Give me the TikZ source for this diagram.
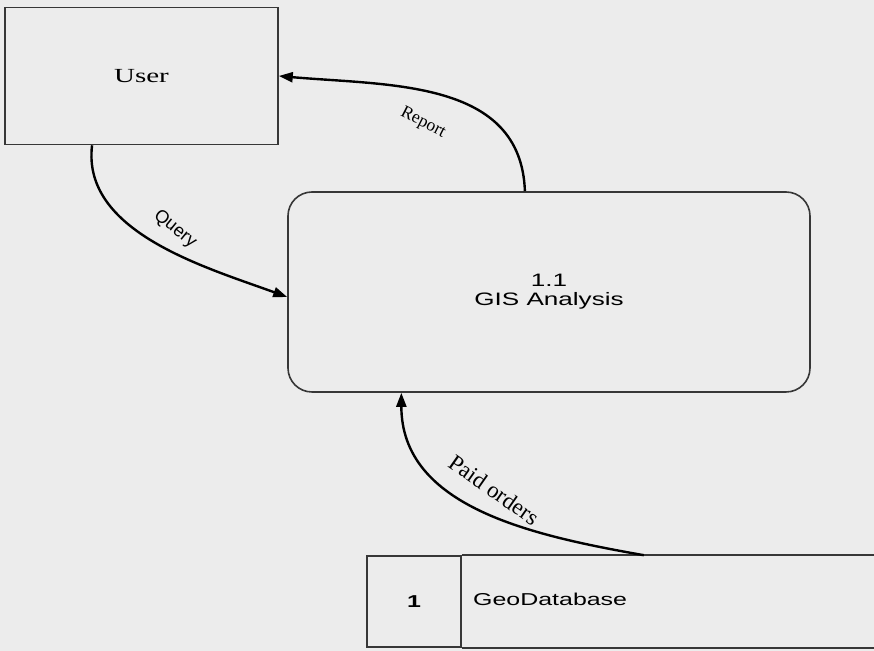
\documentclass[tikz,border=0pt]{standalone}
\usepackage{fontspec}
\setmainfont{Liberation Serif}
\setsansfont{Liberation Sans}
\usetikzlibrary{arrows.meta,calc,positioning}

\definecolor{paper}{RGB}{236,236,236}
\definecolor{edge}{RGB}{55,55,55}
\newcommand{\hstretch}[1]{\scalebox{1.45}[1]{#1}}

\tikzset{
  entity/.style={draw=edge, line width=0.8pt, minimum width=136.5pt, minimum height=68.5pt,
    inner sep=0pt, font=\rmfamily\fontsize{10}{11}\selectfont},
  process/.style={draw=edge, line width=0.8pt, rounded corners=12pt, minimum width=261pt,
    minimum height=100pt, align=center, font=\sffamily\fontsize{9}{9.5}\selectfont},
  storeid/.style={draw=edge, line width=0.8pt, minimum width=47pt, minimum height=45.5pt,
    inner sep=0pt, font=\sffamily\bfseries\fontsize{8.6}{10}\selectfont},
  flow/.style={line width=1.2pt, -{Triangle[length=7pt,width=5pt]}},
  flowlabel/.style={inner sep=1pt}
}

\begin{document}
\begin{tikzpicture}[x=0.5pt, y=0.5pt]
\fill[paper] (0,0) rectangle (874,-651);
\useasboundingbox (0,0) rectangle (874,-651);

\node[entity] (user) at (141.5,-76) {\hstretch{User}};
\node[process] (proc) at (549,-292) {\raisebox{-2pt}{\hstretch{1.1}}\\\raisebox{-2pt}{\hstretch{GIS Analysis}}};

\node[storeid] (sid) at (414,-601.5) {\raisebox{-1pt}{\hstretch{1}}};
\node[anchor=west, inner sep=0pt, font=\sffamily\fontsize{8.6}{10}\selectfont] (sname)
  at ($(sid.east)+(11,2)$) {\hstretch{GeoDatabase}};
\draw[draw=edge, line width=0.8pt] (sid.north east) -- ++(413,0)
  (sid.south east) -- ++(413,0);

\coordinate (repstart) at ($(proc.north west)!0.454!(proc.north east)$);
\coordinate (qrystart) at ($(user.south west)!0.32!(user.south east)$);
\coordinate (qryend) at ($(proc.west)+(0,-5)$);
\coordinate (paidstart) at ($(sid.north east)+(182,0)$);
\coordinate (paidend) at ($(proc.south west)!0.218!(proc.south east)$);

\draw[flow] (repstart) to[out=92, in=-5, looseness=1.05] (user.east);
\draw[flow] (qrystart) to[out=-97, in=160, looseness=0.9] (qryend);
\draw[flow] (paidstart) to[out=170, in=-90] (paidend);

\node[flowlabel, rotate=-27, font=\rmfamily\fontsize{8.8}{10}\selectfont] (replabel) at (423,-123) {Report};
\node[flowlabel, rotate=-39, font=\sffamily\fontsize{9}{10}\selectfont] (qrylabel) at (175,-229) {Query};
\node[flowlabel, rotate=-35, font=\rmfamily\fontsize{11.5}{12}\selectfont] (paidlabel) at (494,-490) {Paid orders};
\end{tikzpicture}
\end{document}
